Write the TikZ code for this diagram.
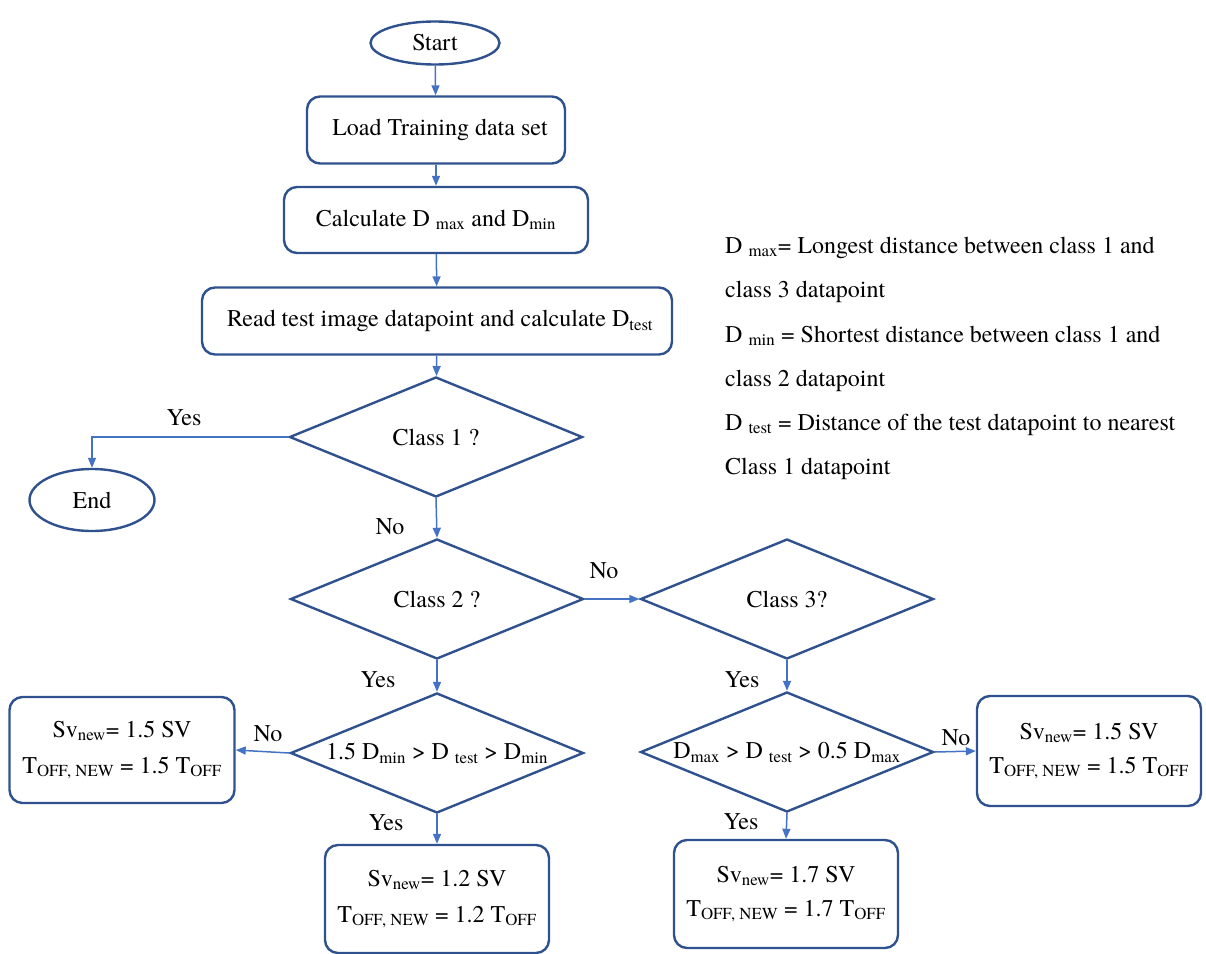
\documentclass[tikz,border=0pt]{standalone}
\usepackage{fontspec}
\setmainfont{TeX Gyre Termes}
\usetikzlibrary{arrows.meta,shapes.geometric,positioning}
\definecolor{fcEdge}{RGB}{47,82,143}
\definecolor{fcArrow}{RGB}{68,114,196}
\newcommand{\subtx}[1]{\textsubscript{#1}}

\begin{document}
\begin{tikzpicture}[x=1pt,y=-1pt,font=\fontsize{24}{30}\selectfont,
  terminal/.style={ellipse,draw=fcEdge,line width=2.4pt,inner sep=0pt},
  process/.style={draw=fcEdge,line width=2.4pt,rounded corners=13pt,inner sep=0pt,align=center},
  decision/.style={diamond,draw=fcEdge,line width=2.4pt,inner sep=0pt,minimum width=293pt,minimum height=120pt},
  flowarrow/.style={-{Triangle[length=10pt,width=8pt]},draw=fcArrow,line width=1.5pt},
  note/.style={anchor=base west,inner sep=0pt}]
  \useasboundingbox (0,0) rectangle (1206,953);
  \node[terminal,minimum width=129pt,minimum height=43pt] (start) at (435,43) {Start};
  \node[process,minimum width=258pt,minimum height=67pt] (load) at (436,130) {\hspace*{8pt}Load Training data set};
  \node[process,minimum width=304pt,minimum height=66pt] (calc) at (436,220) {Calculate D \subtx{max} and D\subtx{min}};
  \node[process,minimum width=470pt,minimum height=67pt] (read) at (437,321) {\hspace*{6pt}Read test image datapoint and calculate D\subtx{test}};
  \node[decision,label={center:Class 1 ?}] (cls1) at (436,437) {};
  \node[terminal,minimum width=125pt,minimum height=62pt] (stop) at (92,500) {End};
  \node[decision,label={center:Class 2 ?}] (cls2) at (437,599) {};
  \node[decision,label={center:Class 3?}] (cls3) at (787,599) {};
  \node[decision,label={center:1.5 D\subtx{min} > D \subtx{test} > D\subtx{min}}] (rng2) at (437,753) {};
  \node[decision,label={center:D\subtx{max} > D \subtx{test} > 0.5 D\subtx{max}}] (rng3) at (787,752) {};
  \node[process,minimum width=225pt,minimum height=106pt] (outA) at (122,750) {Sv\subtx{new}= 1.5 SV\\[6pt]T\subtx{OFF, NEW} = 1.5 T\subtx{OFF}};
  \node[process,minimum width=224pt,minimum height=108pt] (outB) at (437,899) {Sv\subtx{new}= 1.2 SV\\[6pt]T\subtx{OFF, NEW} = 1.2 T\subtx{OFF}};
  \node[process,minimum width=224pt,minimum height=108pt] (outC) at (786,894) {Sv\subtx{new}= 1.7 SV\\[4pt]T\subtx{OFF, NEW} = 1.7 T\subtx{OFF}};
  \node[process,minimum width=224pt,minimum height=110pt] (outD) at (1089,751) {Sv\subtx{new}= 1.5 SV\\[4pt]T\subtx{OFF, NEW} = 1.5 T\subtx{OFF}};

  \draw[flowarrow] (start) -- (load);
  \draw[flowarrow] (load) -- (calc);
  \draw[flowarrow] (calc) -- (read);
  \draw[flowarrow] (read) -- (cls1);
  \draw[flowarrow] (cls1.west) -| (stop.north);
  \draw[flowarrow] (cls1.south) -- (cls2.north);
  \draw[flowarrow] (cls2.east) -- (cls3.west);
  \draw[flowarrow] (cls2.south) -- (rng2.north);
  \draw[flowarrow] (cls3.south) -- (rng3.north);
  \draw[flowarrow] (rng2.west) -- (outA.east);
  \draw[flowarrow] (rng2.south) -- (outB.north);
  \draw[flowarrow] (rng3.south) -- (outC.north);
  \draw[flowarrow] (rng3.east) -- (outD.west);

  \node (yes1) at (184,418) {Yes};
  \node (no1) at (390,527) {No};
  \node (no2) at (604,571) {No};
  \node (yes2) at (378,680) {Yes};
  \node (yes3) at (742,680) {Yes};
  \node (no3) at (268,734) {No};
  \node (no4) at (956,738) {No};
  \node (yes4) at (386,823) {Yes};
  \node (yes5) at (741,822) {Yes};

  \node[note] (def1) at (725,253) {D \subtx{max}= Longest distance between class 1 and};
  \node[note] (def2) at (725,297) {class 3 datapoint};
  \node[note] (def3) at (725,342) {D \subtx{min} = Shortest distance between class 1 and};
  \node[note] (def4) at (725,386) {class 2 datapoint};
  \node[note] (def5) at (725,430) {D \subtx{test} = Distance of the test datapoint to nearest};
  \node[note] (def6) at (725,474) {Class 1 datapoint};
\end{tikzpicture}
\end{document}
